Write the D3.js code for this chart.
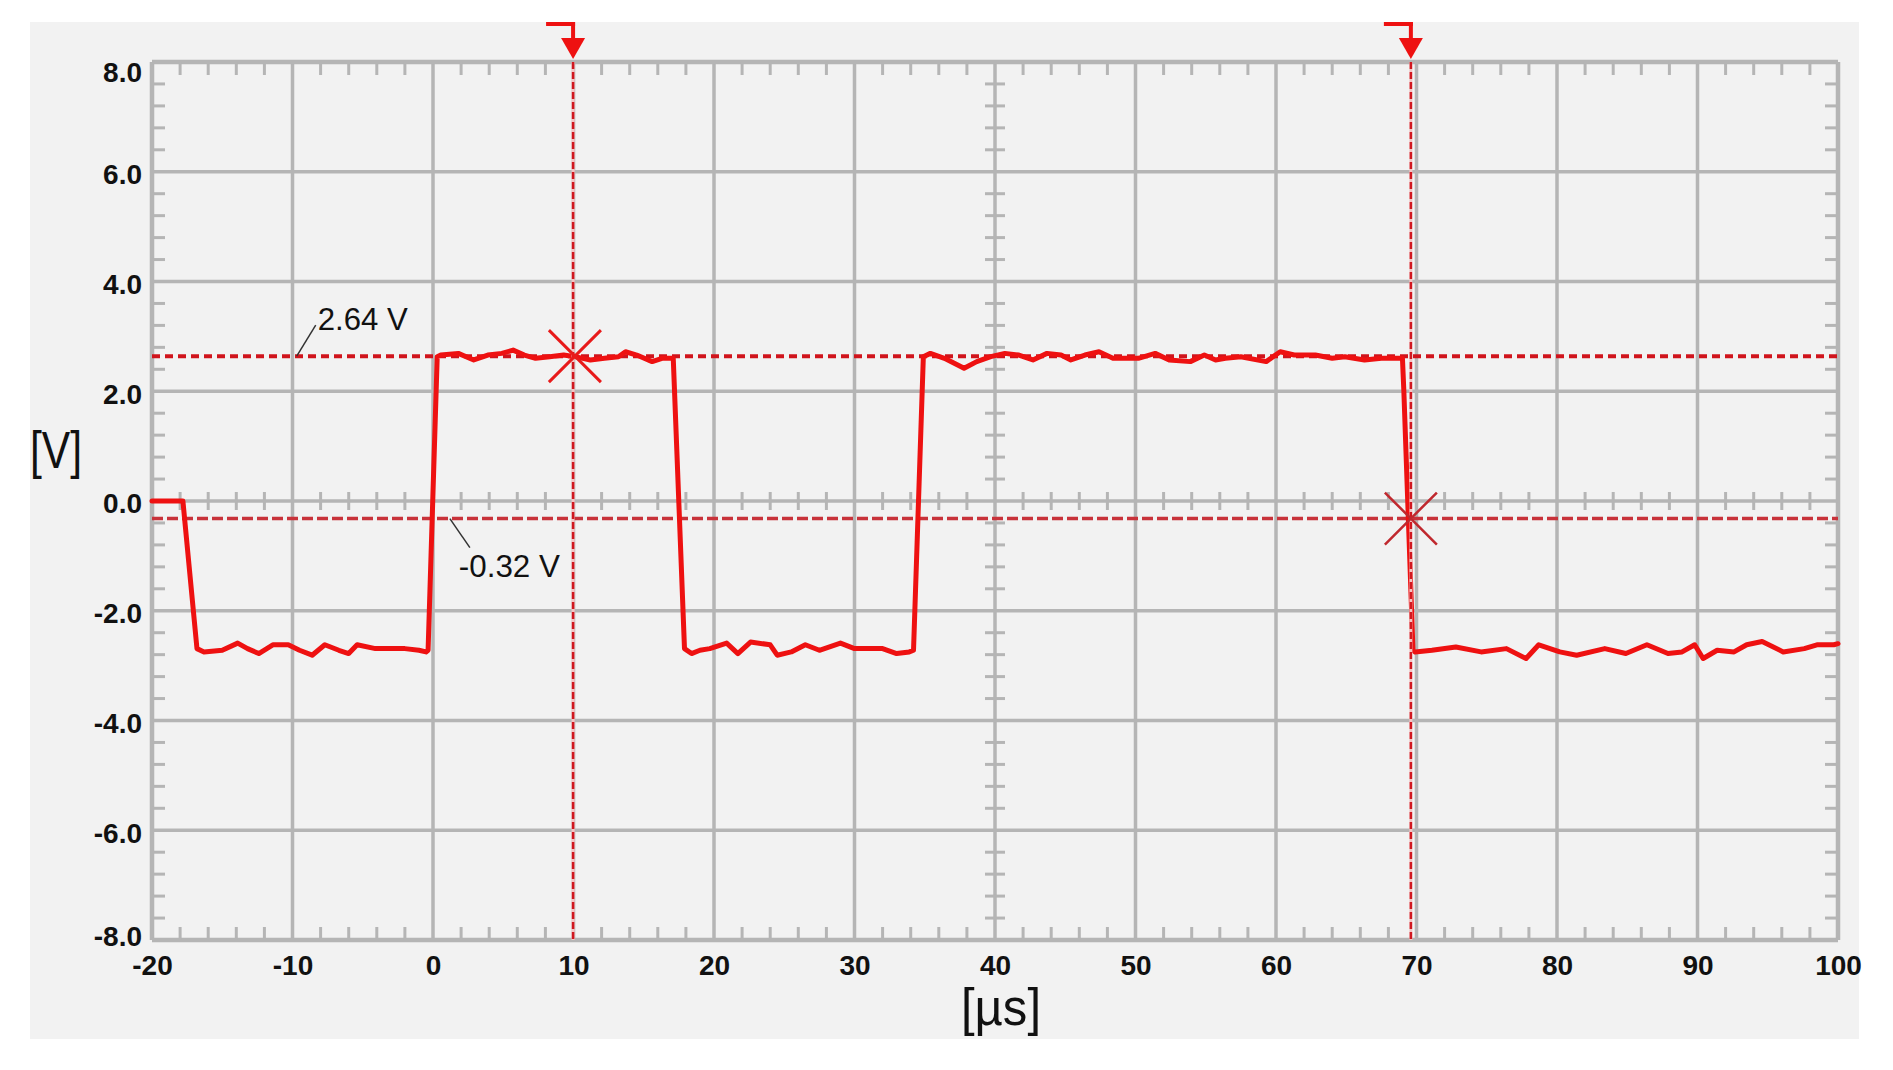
<!DOCTYPE html>
<html>
<head>
<meta charset="utf-8">
<script src="https://cdn.jsdelivr.net/npm/d3@7"></script>
<style>
  html, body { margin: 0; padding: 0; background: #ffffff; }
  svg { display: block; }
  text { font-family: "Liberation Sans", Arial, sans-serif; }
</style>
</head>
<body>
<svg id="chart" width="1893" height="1070"></svg>
<script>
// ---- data ----
const timeUs = [
  -20, -17.8, -16.8, -16.3, -15.0, -13.9, -13.2, -12.4, -11.4, -10.3, -9.5, -8.6, -7.7, -6.7, -6.0, -5.4, -4.1, -2.0, -1.0, -0.5, -0.35,
  0.3, 0.55, 1.8, 2.9, 3.9, 4.9, 5.7, 6.5, 7.3, 8.3, 9.3, 10.1, 11.2, 12.2, 13.2, 13.7, 14.5, 15.6, 16.3, 17.1,
  17.9, 18.4, 19.0, 19.7, 20.9, 21.7, 22.6, 24.0, 24.5, 25.5, 26.5, 27.5, 29.0, 30.0, 32.0, 33.0, 33.9, 34.2,
  34.9, 35.4, 36.4, 37.8, 38.7, 39.7, 40.7, 41.7, 42.7, 43.7, 44.7, 45.4, 46.4, 47.4, 48.4, 50.2, 51.4, 52.4, 53.9, 54.9,
  55.7, 56.4, 57.5, 59.3, 60.3, 61.3, 62.8, 64.0, 64.9, 66.3, 67.5, 69.0, 69.1,
  69.75, 69.9, 71.1, 72.8, 74.6, 76.4, 77.8, 78.7, 80.2, 81.4, 83.4, 84.9, 86.4, 87.9, 88.9, 89.8, 90.4, 91.4, 92.6, 93.5, 94.6, 96.1, 97.6, 98.5, 99.7, 100
];
const volts = [
  0.0, 0.0, -2.69, -2.75, -2.72, -2.59, -2.69, -2.78, -2.62, -2.62, -2.72, -2.81, -2.62, -2.72, -2.78, -2.62, -2.69, -2.69, -2.72, -2.75, -2.72,
  2.63, 2.66, 2.69, 2.57, 2.66, 2.69, 2.75, 2.66, 2.60, 2.63, 2.66, 2.63, 2.57, 2.60, 2.63, 2.72, 2.66, 2.54, 2.60, 2.60,
  -2.69, -2.78, -2.72, -2.69, -2.59, -2.78, -2.57, -2.62, -2.81, -2.75, -2.62, -2.72, -2.59, -2.69, -2.69, -2.78, -2.75, -2.72,
  2.63, 2.69, 2.60, 2.42, 2.54, 2.63, 2.69, 2.66, 2.57, 2.69, 2.66, 2.57, 2.66, 2.72, 2.60, 2.60, 2.69, 2.57, 2.54, 2.66,
  2.57, 2.60, 2.63, 2.54, 2.72, 2.66, 2.66, 2.60, 2.63, 2.57, 2.60, 2.60, 2.0,
  -2.72, -2.75, -2.72, -2.66, -2.75, -2.69, -2.87, -2.62, -2.75, -2.81, -2.69, -2.78, -2.62, -2.78, -2.75, -2.62, -2.87, -2.72, -2.75, -2.62, -2.56, -2.75, -2.69, -2.62, -2.62, -2.60
];
const xTicks = [-20, -10, 0, 10, 20, 30, 40, 50, 60, 70, 80, 90, 100];
const xTickLabels = ["-20", "-10", "0", "10", "20", "30", "40", "50", "60", "70", "80", "90", "100"];
const yTicks = [8, 6, 4, 2, 0, -2, -4, -6, -8];
const yTickLabels = ["8.0", "6.0", "4.0", "2.0", "0.0", "-2.0", "-4.0", "-6.0", "-8.0"];
const cursorTimes = [9.97, 69.6];
const cursorLevels = [2.64, -0.32];
const levelLabels = ["2.64 V", "-0.32 V"];
const levelLabelAnchorTimes = [-9.7, 1.2];
const markerTimes = [10.1, 69.6];
const markerLevels = [2.64, -0.32];
const xTitle = "[µs]";
const yTitle = "[V]";

// ---- layout ----
const svg = d3.select("#chart");
const panel = { x: 30, y: 22, w: 1829, h: 1017 };
const x = d3.scaleLinear().domain([-20, 100]).range([152, 1838]);
const y = d3.scaleLinear().domain([-8, 8]).range([940, 62]);
const GRID = "#b5b5b5";

svg.append("rect").attr("x", panel.x).attr("y", panel.y).attr("width", panel.w).attr("height", panel.h).attr("fill", "#f2f2f2");

const g = svg.append("g");

// minor tick positions
const xMinor = d3.range(-20, 100.001, 2).filter(v => Math.abs(v % 10) > 1e-6);
const yMinor = d3.range(-8, 8.001, 0.4).map(v => +v.toFixed(2)).filter(v => Math.abs(v % 2) > 1e-6 && Math.abs(Math.abs(v % 2) - 2) > 1e-6);

// major grid lines
g.selectAll(".vgrid").data(xTicks).join("line")
  .attr("x1", d => x(d)).attr("x2", d => x(d)).attr("y1", y(8)).attr("y2", y(-8))
  .attr("stroke", GRID).attr("stroke-width", d => (d === -20 || d === 100) ? 4.5 : 3.5);
g.selectAll(".hgrid").data(yTicks).join("line")
  .attr("y1", d => y(d)).attr("y2", d => y(d)).attr("x1", x(-20)).attr("x2", x(100))
  .attr("stroke", GRID).attr("stroke-width", d => (d === 8 || d === -8) ? 4.5 : 3.5);

// border minor ticks (inward) and centre-line ticks
const TL = 13;
const tickG = g.append("g").attr("stroke", GRID).attr("stroke-width", 3);
xMinor.forEach(v => {
  tickG.append("line").attr("x1", x(v)).attr("x2", x(v)).attr("y1", y(8)).attr("y2", y(8) + TL);
  tickG.append("line").attr("x1", x(v)).attr("x2", x(v)).attr("y1", y(-8)).attr("y2", y(-8) - TL);
  tickG.append("line").attr("x1", x(v)).attr("x2", x(v)).attr("y1", y(0) - 9).attr("y2", y(0) + 9);
});
yMinor.forEach(v => {
  tickG.append("line").attr("y1", y(v)).attr("y2", y(v)).attr("x1", x(-20)).attr("x2", x(-20) + TL);
  tickG.append("line").attr("y1", y(v)).attr("y2", y(v)).attr("x1", x(100)).attr("x2", x(100) - TL);
  tickG.append("line").attr("y1", y(v)).attr("y2", y(v)).attr("x1", x(40) - 10).attr("x2", x(40) + 10);
});

// axes labels
const yAxis = d3.axisLeft(y).tickValues(yTicks).tickFormat((d, i) => yTickLabels[i]).tickSize(0).tickPadding(10);
const ya = svg.append("g").attr("transform", `translate(${x(-20)},0)`).call(yAxis);
ya.select(".domain").remove();
ya.selectAll("text")
  .attr("font-family", "'Liberation Sans', Arial, sans-serif")
  .attr("font-size", 28).attr("font-weight", "bold").attr("fill", "#111")
  .attr("dy", d => d === 8 ? "0.68em" : (d === -8 ? "0.18em" : "0.42em"));

const xAxis = d3.axisBottom(x).tickValues(xTicks).tickFormat((d, i) => xTickLabels[i]).tickSize(0).tickPadding(15);
const xa = svg.append("g").attr("transform", `translate(0,${y(-8)})`).call(xAxis);
xa.select(".domain").remove();
xa.selectAll("text")
  .attr("font-family", "'Liberation Sans', Arial, sans-serif")
  .attr("font-size", 28).attr("font-weight", "bold").attr("fill", "#111");

// axis titles
svg.append("text").text(yTitle).attr("x", 30).attr("y", 468)
  .attr("font-size", 52).attr("fill", "#111")
  .attr("textLength", 52).attr("lengthAdjust", "spacingAndGlyphs");
svg.append("text").text(xTitle).attr("x", 961).attr("y", 1025)
  .attr("font-size", 52).attr("fill", "#111")
  .attr("textLength", 80).attr("lengthAdjust", "spacingAndGlyphs");

// horizontal cursor lines
const hStyles = [
  { color: "#d0141c", width: 4, dash: "8,5" },
  { color: "#c8323a", width: 3.5, dash: "11,4" }
];
cursorLevels.forEach((lv, i) => {
  g.append("line").attr("x1", x(-20)).attr("x2", x(100)).attr("y1", y(lv)).attr("y2", y(lv))
    .attr("stroke", hStyles[i].color).attr("stroke-width", hStyles[i].width).attr("stroke-dasharray", hStyles[i].dash);
});

// trace
const pts = timeUs.map((t, i) => [t, volts[i]]);
const line = d3.line().x(d => x(d[0])).y(d => y(d[1]));
g.append("path").attr("d", line(pts)).attr("fill", "none")
  .attr("stroke", "#ee1111").attr("stroke-width", 5).attr("stroke-linejoin", "round").attr("stroke-linecap", "round");

// vertical cursors with flags
cursorTimes.forEach(t => {
  const cx = x(t);
  g.append("line").attr("x1", cx).attr("x2", cx).attr("y1", y(8)).attr("y2", y(-8))
    .attr("stroke", "#f6c4c4").attr("stroke-width", 3);
  g.append("line").attr("x1", cx).attr("x2", cx).attr("y1", y(8)).attr("y2", y(-8))
    .attr("stroke", "#d01820").attr("stroke-width", 2.5).attr("stroke-dasharray", "7,3");
  g.append("line").attr("x1", cx - 27).attr("x2", cx + 2).attr("y1", panel.y + 2).attr("y2", panel.y + 2)
    .attr("stroke", "#ee1111").attr("stroke-width", 4);
  g.append("line").attr("x1", cx).attr("x2", cx).attr("y1", panel.y).attr("y2", 42)
    .attr("stroke", "#ee1111").attr("stroke-width", 4);
  g.append("path").attr("d", `M${cx - 12},38 L${cx + 12},38 L${cx},59 Z`).attr("fill", "#ee1111");
});

// X markers
const mStyles = [
  { color: "#e81a1a", width: 3 },
  { color: "#c0282e", width: 2.5 }
];
markerTimes.forEach((t, i) => {
  const mx = x(t), my = y(markerLevels[i]);
  const s = 26;
  g.append("path").attr("d", `M${mx - s},${my - s} L${mx + s},${my + s} M${mx + s},${my - s} L${mx - s},${my + s}`)
    .attr("stroke", mStyles[i].color).attr("stroke-width", mStyles[i].width).attr("fill", "none");
});

// level labels with leader lines
const leaderOffsets = [[19, -31], [20, 29]];
const textOffsets = [[21, -26], [9, 58]];
cursorLevels.forEach((lv, i) => {
  const ax = x(levelLabelAnchorTimes[i]), ay = y(lv);
  g.append("line").attr("x1", ax).attr("y1", ay)
    .attr("x2", ax + leaderOffsets[i][0]).attr("y2", ay + leaderOffsets[i][1])
    .attr("stroke", "#333").attr("stroke-width", 1.5);
  g.append("text").text(levelLabels[i])
    .attr("x", ax + textOffsets[i][0]).attr("y", ay + textOffsets[i][1])
    .attr("font-size", 31).attr("fill", "#111")
    .attr("textLength", i === 0 ? 90 : 101).attr("lengthAdjust", "spacingAndGlyphs");
});
</script>
</body>
</html>
